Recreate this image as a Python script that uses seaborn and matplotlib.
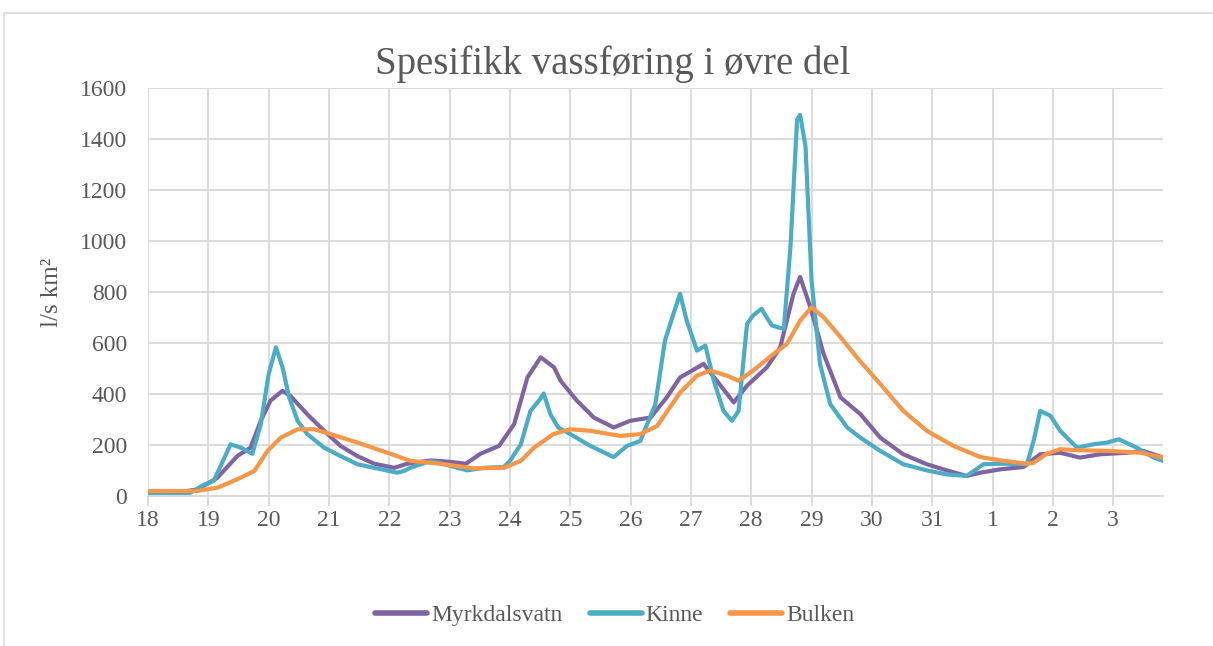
import numpy as np
import pandas as pd
import matplotlib
matplotlib.use("Agg")
import matplotlib.pyplot as plt
import seaborn as sns
from matplotlib.lines import Line2D
from matplotlib.patches import Rectangle

# x positions are day index (0 = the 18th)
day_labels = ["18", "19", "20", "21", "22", "23", "24", "25", "26", "27",
              "28", "29", "30", "31", "1", "2", "3"]

myrk_x = [0, 0.5, 0.82, 1.15, 1.48, 1.7, 1.87, 2.03, 2.23, 2.36, 2.64, 2.92, 3.19, 3.47,
          3.75, 4.08, 4.3, 4.69, 5.02, 5.27, 5.51, 5.82, 6.07, 6.29, 6.51, 6.73, 6.84,
          7.11, 7.39, 7.72, 7.99, 8.33, 8.6, 8.82, 9.21, 9.43, 9.71, 9.93, 10.26, 10.48,
          10.7, 10.81, 10.98, 11.2, 11.48, 11.81, 12.14, 12.52, 12.91, 13.24, 13.57,
          13.8, 14.13, 14.51, 14.79, 15.12, 15.45, 15.78, 16.23, 16.5, 16.83]
myrk_y = [18, 15, 26, 72, 157, 190, 295, 374, 413, 393, 321, 256, 197, 157,
          127, 111, 127, 140, 134, 127, 166, 197, 282, 465, 544, 505, 452,
          374, 308, 269, 295, 308, 387, 465, 518, 452, 367, 433, 505, 583,
          793, 859, 740, 557, 387, 321, 229, 164, 125, 101, 79,
          92, 105, 114, 164, 170, 151, 164, 170, 177, 151]

kinne_x = [0, 0.7, 0.93, 1.09, 1.37, 1.54, 1.73, 1.87, 2.0, 2.12, 2.23, 2.34, 2.48, 2.64,
           2.92, 3.19, 3.47, 3.75, 4.13, 4.24, 4.35, 4.69, 5.02, 5.29, 5.57, 5.9, 6.0,
           6.18, 6.34, 6.48, 6.56, 6.67, 6.8, 7.0, 7.33, 7.72, 7.94, 8.16, 8.41, 8.57,
           8.71, 8.82, 8.93, 9.1, 9.24, 9.38, 9.54, 9.68, 9.79, 9.93, 10.03, 10.17,
           10.34, 10.54, 10.65, 10.76, 10.81, 10.9, 11.0, 11.14, 11.31, 11.59, 11.81,
           12.14, 12.52, 12.91, 13.24, 13.57, 13.85, 14.13, 14.57, 14.68, 14.79, 14.96,
           15.12, 15.4, 15.67, 15.9, 16.09, 16.39, 16.67, 16.83]
kinne_y = [12, 13, 45, 60, 203, 190, 166, 282, 478, 583, 505, 387, 295, 243,
           190, 157, 125, 111, 92, 98, 111, 138, 118, 101, 111, 114, 138,
           203, 334, 374, 402, 321, 269, 243, 197, 153, 197, 216, 360, 610,
           714, 793, 688, 570, 590, 452, 334, 295, 334, 675, 708, 734,
           669, 655, 977, 1475, 1494, 1370, 845, 518, 360, 269, 229,
           177, 125, 101, 85, 79, 125, 127, 125, 216, 334, 315,
           256, 190, 203, 210, 223, 190, 151, 138]

bulken_x = [0, 0.8, 1.15, 1.48, 1.76, 1.98, 2.2, 2.48, 2.75, 3.03, 3.47, 4.02, 4.35,
            4.85, 5.4, 5.9, 6.18, 6.4, 6.72, 7.0, 7.33, 7.83, 8.16, 8.44, 8.82, 9.1,
            9.32, 9.6, 9.79, 10.03, 10.37, 10.59, 10.81, 11.0, 11.2, 11.48, 11.8,
            12.14, 12.52, 12.91, 13.35, 13.8, 14.13, 14.57, 14.68, 14.9, 15.12, 15.4,
            15.95, 16.45, 16.83]
bulken_y = [20, 20, 33, 66, 98, 177, 229, 262, 262, 243, 210, 166, 138,
            127, 109, 111, 138, 190, 243, 262, 256, 236, 243, 275, 406, 472,
            492, 472, 452, 492, 557, 596, 688, 740, 701, 623, 530,
            439, 334, 256, 197, 153, 140, 127, 131, 166, 184, 180,
            177, 170, 151]

series_names = ["Myrkdalsvatn", "Kinne", "Bulken"]
colors = ["#8064A2", "#4BACC6", "#F79646"]

df = pd.concat([
    pd.DataFrame({"x": myrk_x, "y": myrk_y, "serie": series_names[0]}),
    pd.DataFrame({"x": kinne_x, "y": kinne_y, "serie": series_names[1]}),
    pd.DataFrame({"x": bulken_x, "y": bulken_y, "serie": series_names[2]}),
], ignore_index=True)

sns.set_theme(style="white")
plt.rcParams["font.family"] = ["Liberation Serif", "DejaVu Serif"]
txt = "#595959"

fig = plt.figure(figsize=(12.13, 6.46), dpi=100)
ax = fig.add_axes([0.122, 0.232, 0.837, 0.632])

sns.lineplot(data=df, x="x", y="y", hue="serie", palette=dict(zip(series_names, colors)),
             linewidth=3.0, ax=ax, sort=False, estimator=None, legend=False)
for ln in ax.lines:
    ln.set_solid_joinstyle("round")
    ln.set_solid_capstyle("round")

ax.set_xlim(0, 16.83)
ax.set_ylim(0, 1600)
ax.set_xticks(range(len(day_labels)))
ax.set_xticklabels(day_labels)
ax.set_yticks(range(0, 1601, 200))
ax.grid(True, color="#d9d9d9", linewidth=1.3)
ax.set_axisbelow(True)
for s in ["top", "right", "left"]:
    ax.spines[s].set_visible(False)
ax.spines["bottom"].set_color("#d9d9d9")
ax.spines["bottom"].set_linewidth(1.3)
ax.tick_params(axis="x", length=7, width=1.3, color="#d9d9d9", labelsize=17, labelcolor=txt, pad=3, bottom=True)
ax.tick_params(axis="y", length=0, labelsize=17, labelcolor=txt, pad=15)
ax.set_xlabel("")
ax.set_ylabel("l/s km²", fontsize=18, color=txt, labelpad=12)

fig.suptitle("Spesifikk vassføring i øvre del", x=0.505, y=0.93, fontsize=28, color=txt)

handles = [Line2D([0], [0], color=c, linewidth=4, solid_capstyle="round") for c in colors]
fig.legend(handles, series_names, loc="center", bbox_to_anchor=(0.507, 0.047), ncol=3,
           frameon=False, fontsize=17, labelcolor=txt, handlelength=2.2, handletextpad=0.17,
           columnspacing=1.15)

fig.patches.append(Rectangle((0.003, -0.1), 1.1, 1.08, transform=fig.transFigure,
                             fill=False, edgecolor="#d9d9d9", linewidth=1.2))

fig.savefig("out.png", dpi=100)
